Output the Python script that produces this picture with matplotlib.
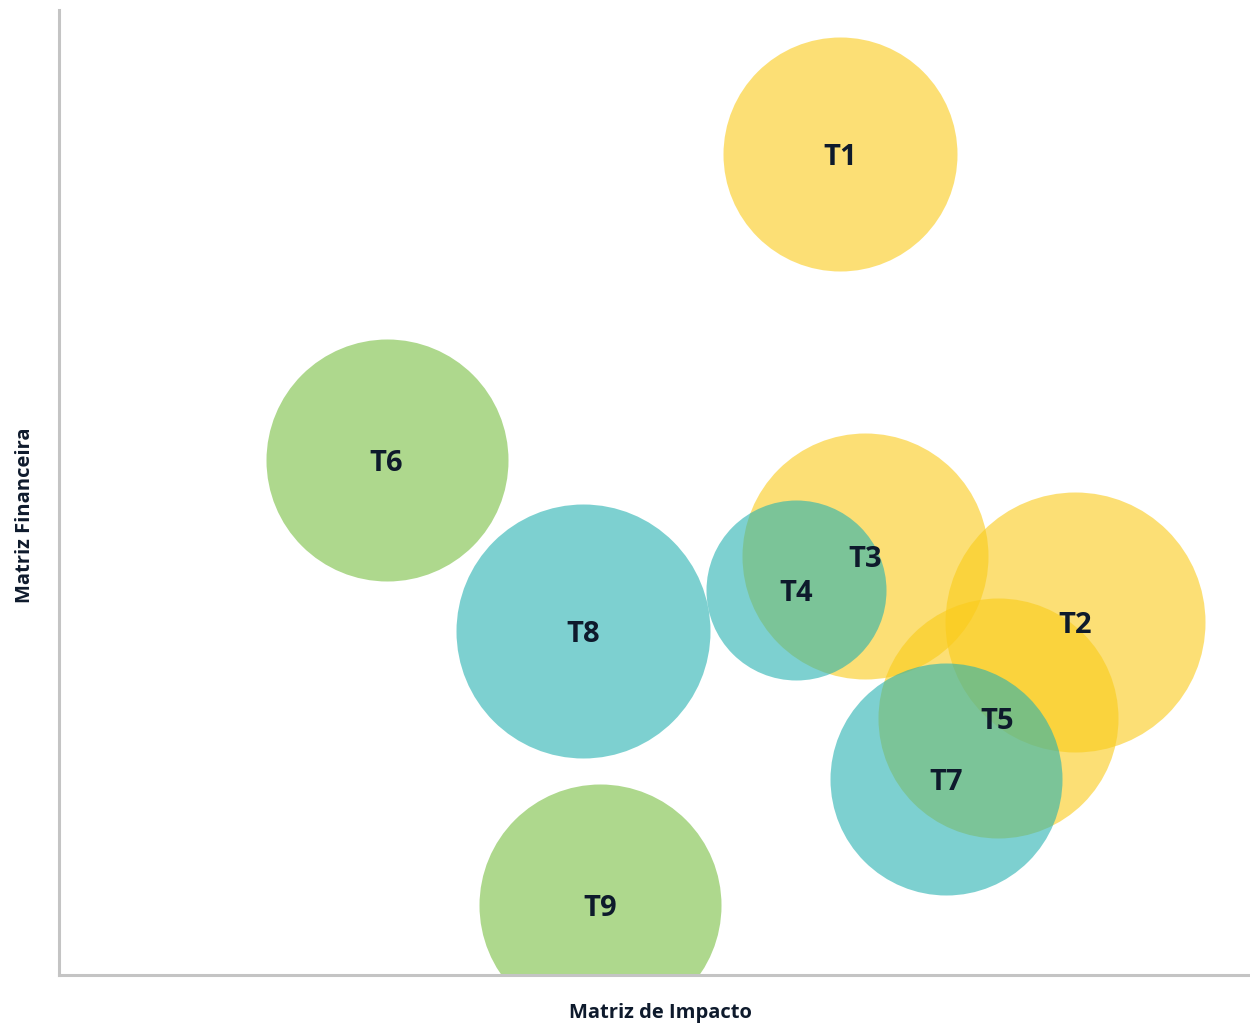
import matplotlib
matplotlib.use("Agg")
import matplotlib.pyplot as plt

# Data
labels = ["T1", "T2", "T3", "T4", "T5", "T6", "T7", "T8", "T9"]
impacto = [6.56, 8.53, 6.77, 6.19, 7.88, 2.75, 7.45, 4.40, 4.54]
financeira = [8.51, 3.66, 4.34, 3.99, 2.66, 5.34, 2.03, 3.56, 0.73]
tamanho = [117, 130, 123, 90, 120, 121, 116, 127, 121]
grupo = ["amarelo", "amarelo", "amarelo", "azul", "amarelo", "verde", "azul", "azul", "verde"]

cores = {"amarelo": "#FACB19", "azul": "#26B2B1", "verde": "#78BE41"}
texto = "#0E1A2C"

plt.rcParams['font.family'] = ['Open Sans', 'DejaVu Sans']

W, H, DPI = 1250, 1024, 100
fig = plt.figure(figsize=(W / DPI, H / DPI), dpi=DPI)
ax = fig.add_axes([59 / W, (H - 975) / H, (W - 59) / W, 965 / H])

for lab, x, y, r, g in zip(labels, impacto, financeira, tamanho, grupo):
    s = (2 * r * 72 / DPI) ** 2
    ax.scatter([x], [y], s=s, color=cores[g], alpha=0.6, linewidths=0, zorder=2)

for lab, x, y in zip(labels, impacto, financeira):
    ax.annotate(lab, (x, y), xytext=(0, -2.5), textcoords="offset points",
                ha="center", va="center", fontsize=21, fontweight="bold",
                color=texto, zorder=5)

ax.set_xlim(0, 10)
ax.set_ylim(0, 10)
ax.set_xticks([])
ax.set_yticks([])
for s in ["top", "right"]:
    ax.spines[s].set_visible(False)
for s in ["left", "bottom"]:
    ax.spines[s].set_color("#C4C4C4")
    ax.spines[s].set_linewidth(2.2)

fig.text(660 / W, 1 - 1013 / H, "Matriz de Impacto", ha="center", va="center",
         fontsize=14.5, fontweight="bold", color=texto)
fig.text(25 / W, 1 - 515 / H, "Matriz Financeira", ha="center", va="center",
         rotation=90, fontsize=14.5, fontweight="bold", color=texto)

fig.savefig("out.png", dpi=DPI)
